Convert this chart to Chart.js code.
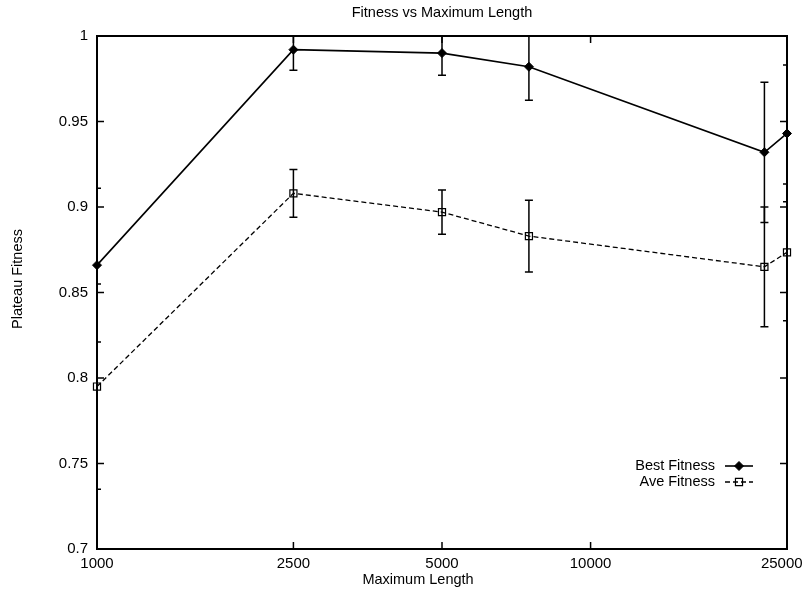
<!DOCTYPE html>
<html>
<head>
<meta charset="utf-8">
<title>Fitness vs Maximum Length</title>
<script src="https://cdn.jsdelivr.net/npm/chart.js@4.4.1/dist/chart.umd.min.js"></script>
<style>
  html, body { margin: 0; padding: 0; background: #fff; }
  #chart { display: block; }
</style>
</head>
<body>
<canvas id="chart" width="807" height="589"></canvas>
<script>
/* ── Data ───────────────────────────────────────── */
const maxLength   = [1000, 2500, 5000, 7500, 22500, 25000];
const bestFitness = [0.866, 0.992, 0.990, 0.982, 0.932, 0.943];
const bestError   = [0.045, 0.012, 0.013, 0.0195, 0.041, 0.040];
const aveFitness  = [0.795, 0.908, 0.897, 0.883, 0.865, 0.8735];
const aveError    = [0.060, 0.014, 0.013, 0.021, 0.035, 0.040];
const xTickValues = [1000, 2500, 5000, 10000, 25000];
const yTickValues = [0.7, 0.75, 0.8, 0.85, 0.9, 0.95, 1];

const FONT = '"Liberation Sans", Arial, Helvetica, sans-serif';

/* ── Error bars, frame, inward ticks, texts, legend ─ */
const gnuplotLook = {
  id: 'gnuplotLook',
  afterDatasetsDraw(chart) {
    const { ctx, chartArea: a, scales: { x, y } } = chart;

    /* error bars (clipped to the plot box) */
    ctx.save();
    ctx.beginPath();
    ctx.rect(a.left, a.top, a.right - a.left, a.bottom - a.top);
    ctx.clip();
    ctx.strokeStyle = '#000';
    ctx.lineWidth = 1.5;
    const bars = [[bestFitness, bestError], [aveFitness, aveError]];
    bars.forEach(([vals, errs]) => {
      vals.forEach((v, i) => {
        const px = x.getPixelForValue(maxLength[i]);
        const top = y.getPixelForValue(v + errs[i]);
        const bot = y.getPixelForValue(v - errs[i]);
        ctx.beginPath();
        ctx.moveTo(px, top); ctx.lineTo(px, bot);
        ctx.moveTo(px - 4, top); ctx.lineTo(px + 4, top);
        ctx.moveTo(px - 4, bot); ctx.lineTo(px + 4, bot);
        ctx.stroke();
      });
    });
    ctx.restore();

    /* frame */
    ctx.save();
    ctx.strokeStyle = '#000';
    ctx.lineWidth = 2;
    ctx.strokeRect(a.left, a.top, a.right - a.left, a.bottom - a.top);

    /* inward ticks */
    ctx.lineWidth = 1.5;
    ctx.beginPath();
    yTickValues.forEach(v => {
      const py = y.getPixelForValue(v);
      ctx.moveTo(a.left, py);  ctx.lineTo(a.left + 7, py);
      ctx.moveTo(a.right, py); ctx.lineTo(a.right - 7, py);
    });
    xTickValues.forEach(v => {
      const px = x.getPixelForValue(v);
      ctx.moveTo(px, a.bottom); ctx.lineTo(px, a.bottom - 7);
      ctx.moveTo(px, a.top);    ctx.lineTo(px, a.top + 7);
    });
    ctx.stroke();

    /* titles */
    ctx.fillStyle = '#000';
    ctx.font = '14.5px ' + FONT;
    ctx.textAlign = 'center';
    ctx.textBaseline = 'middle';
    ctx.fillText('Fitness vs Maximum Length', (a.left + a.right) / 2, 13);
    ctx.fillText('Maximum Length', 418, 580);
    ctx.save();
    ctx.translate(18, 279);
    ctx.rotate(-Math.PI / 2);
    ctx.fillText('Plateau Fitness', 0, 0);
    ctx.restore();

    /* legend */
    const entries = [
      { label: 'Best Fitness', ds: chart.data.datasets[0], y: 466 },
      { label: 'Ave Fitness',  ds: chart.data.datasets[1], y: 482 },
    ];
    ctx.font = '14.5px ' + FONT;
    ctx.textAlign = 'right';
    entries.forEach(e => {
      ctx.fillStyle = '#000';
      ctx.fillText(e.label, 715, e.y);
      ctx.save();
      ctx.strokeStyle = '#000';
      ctx.lineWidth = e.ds.borderWidth;
      ctx.setLineDash(e.ds.borderDash || []);
      ctx.beginPath();
      ctx.moveTo(725, e.y); ctx.lineTo(753, e.y);
      ctx.stroke();
      ctx.setLineDash([]);
      ctx.lineWidth = e.ds.pointBorderWidth;
      ctx.fillStyle = e.ds.pointBackgroundColor;
      Chart.helpers.drawPoint(ctx, {
        pointStyle: e.ds.pointStyle, radius: e.ds.pointRadius, borderWidth: e.ds.pointBorderWidth
      }, 739, e.y);
      ctx.restore();
    });
    ctx.restore();
  }
};

new Chart(document.getElementById('chart'), {
  type: 'line',
  data: {
    labels: maxLength,
    datasets: [
      {
        label: 'Best Fitness',
        data: maxLength.map((v, i) => ({ x: v, y: bestFitness[i] })),
        borderColor: '#000',
        borderWidth: 1.6,
        pointStyle: 'rectRot',
        pointRadius: 4.5,
        pointBackgroundColor: '#000',
        pointBorderColor: '#000',
        pointBorderWidth: 1,
        clip: false,
      },
      {
        label: 'Ave Fitness',
        data: maxLength.map((v, i) => ({ x: v, y: aveFitness[i] })),
        borderColor: '#000',
        borderWidth: 1.3,
        borderDash: [5, 3],
        pointStyle: 'rect',
        pointRadius: 5,
        pointBackgroundColor: 'rgba(255,255,255,0)',
        pointBorderColor: '#000',
        pointBorderWidth: 1.2,
        clip: false,
      }
    ]
  },
  options: {
    responsive: false,
    animation: false,
    layout: { padding: { left: 0, top: 36, right: 20, bottom: 0 } },
    plugins: { legend: { display: false }, title: { display: false }, tooltip: { enabled: false } },
    scales: {
      x: {
        type: 'logarithmic',
        min: 1000, max: 25000,
        afterBuildTicks: s => { s.ticks = xTickValues.map(v => ({ value: v })); },
        afterFit: s => { s.height = 40; s.paddingLeft = 0; s.paddingRight = 0; },
        grid: { display: false, drawTicks: false },
        border: { display: false },
        ticks: {
          autoSkip: false, maxRotation: 0, padding: 6,
          color: '#000', font: { family: FONT, size: 15 },
          // last label sits against the page edge, nudge it left with trailing spaces
          callback: v => v === 25000 ? String(v) + '\u2002\u2009' : String(v)
        }
      },
      y: {
        type: 'linear',
        min: 0.7, max: 1,
        afterBuildTicks: s => { s.ticks = yTickValues.map(v => ({ value: v })); },
        afterFit: s => { s.width = 97; },
        grid: { display: false, drawTicks: false },
        border: { display: false },
        ticks: {
          padding: 9,
          color: '#000', font: { family: FONT, size: 15 },
          callback: v => String(Number(v.toFixed(2)))
        }
      }
    }
  },
  plugins: [gnuplotLook]
});
</script>
</body>
</html>
